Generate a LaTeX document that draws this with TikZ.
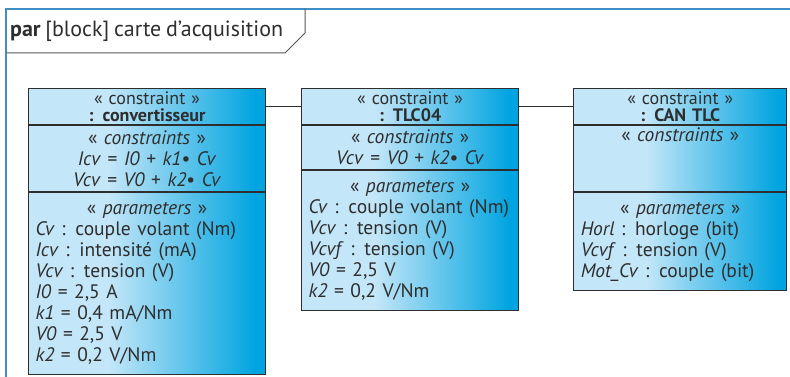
\documentclass[tikz,border=0pt]{standalone}
\usepackage{fontspec}
\setmainfont[WordSpace=0.8]{PT Sans}
\usetikzlibrary{positioning}
\definecolor{ink}{HTML}{2E2E2E}
\definecolor{frameBlue}{HTML}{3F8FC6}
\definecolor{cellLight}{HTML}{C3E6F8}
\definecolor{cellDeep}{HTML}{00A4E0}
\pgfdeclarehorizontalshading{cellshade}{100bp}{color(0bp)=(cellLight); color(42bp)=(cellLight); color(73bp)=(cellDeep); color(100bp)=(cellDeep)}
\tikzset{
  cell/.style={draw=ink, line width=1.1pt, shading=cellshade, inner xsep=7pt, inner ysep=1pt, text=ink, font=\fontsize{19.5}{21}\selectfont},
  headcell/.style={cell, align=center, minimum height=36pt, font=\fontsize{18}{16.5}\selectfont},
  conscell/.style={cell, align=center},
  parcell/.style={cell, align=left},
  link/.style={draw=ink, line width=1.2pt},
}
\newcommand{\dotop}{\textbullet{} }
\newcommand{\partitle}{\makebox[\linewidth]{« \textit{parameters} »}}

\begin{document}
\begin{tikzpicture}[x=1pt, y=-1pt]
\useasboundingbox (0,0) rectangle (790,377);
\fill[white] (0,0) rectangle (790,377);
% frame and title tab
\draw[frameBlue, line width=2pt] (6,377) -- (6,9) -- (790,9);
\draw[ink!80, line width=1pt] (305,9) -- (305,33) -- (285,53) -- (6,53);
\node[anchor=west, inner sep=0pt, text=ink, font=\fontsize{22}{24}\selectfont] (title) at (10,31) {\textbf{par} [block] carte d’acquisition};

% convertisseur
\node[headcell, text width=223pt, anchor=north west] (convH) at (28,88) {« constraint »\\\textbf{: convertisseur}};
\node[conscell, text width=223pt, minimum height=66pt, below=0pt of convH] (convC) {« \textit{constraints} »\\
  \textit{Icv} = \textit{I0} + \textit{k1}\dotop\textit{Cv}\\
  \textit{Vcv} = \textit{V0} + \textit{k2}\dotop\textit{Cv}};
\node[parcell, text width=223pt, minimum height=182pt, below=0pt of convC] (convP) {\partitle\\
  \textit{Cv} : couple volant (Nm)\\
  \textit{Icv} : intensité (mA)\\
  \textit{Vcv} : tension (V)\\
  \textit{I0} = 2,5 A\\
  \textit{k1} = 0,4 mA/Nm\\
  \textit{V0} = 2,5 V\\
  \textit{k2} = 0,2 V/Nm};

% TLC04
\node[headcell, text width=203pt, right=35pt of convH] (tlcH) {« constraint »\\\textbf{: TLC04}};
\node[conscell, text width=203pt, minimum height=44pt, below=0pt of tlcH] (tlcC) {« \textit{constraints} »\\
  \textit{Vcv} = \textit{V0} + \textit{k2}\dotop\textit{Cv}};
\node[parcell, text width=203pt, minimum height=140pt, below=0pt of tlcC] (tlcP) {\partitle\\
  \textit{Cv} : couple volant (Nm)\\
  \textit{Vcv} : tension (V)\\
  \textit{Vcvf} : tension (V)\\
  \textit{V0} = 2,5 V\\
  \textit{k2} = 0,2 V/Nm};

% CAN TLC
\node[headcell, text width=199pt, right=54pt of tlcH] (canH) {« constraint »\\\textbf{: CAN TLC}};
\node[conscell, text width=199pt, minimum height=66pt, below=0pt of canH] (canC) {« \textit{constraints} »\\ \strut\\ \strut};
\node[parcell, text width=199pt, minimum height=98pt, below=0pt of canC] (canP) {\partitle\\
  \textit{Horl} : horloge (bit)\\
  \textit{Vcvf} : tension (V)\\
  \textit{Mot\_Cv} : couple (bit)};

\draw[link] (convH.east) -- (tlcH.west);
\draw[link] (tlcH.east) -- (canH.west);
\end{tikzpicture}
\end{document}
